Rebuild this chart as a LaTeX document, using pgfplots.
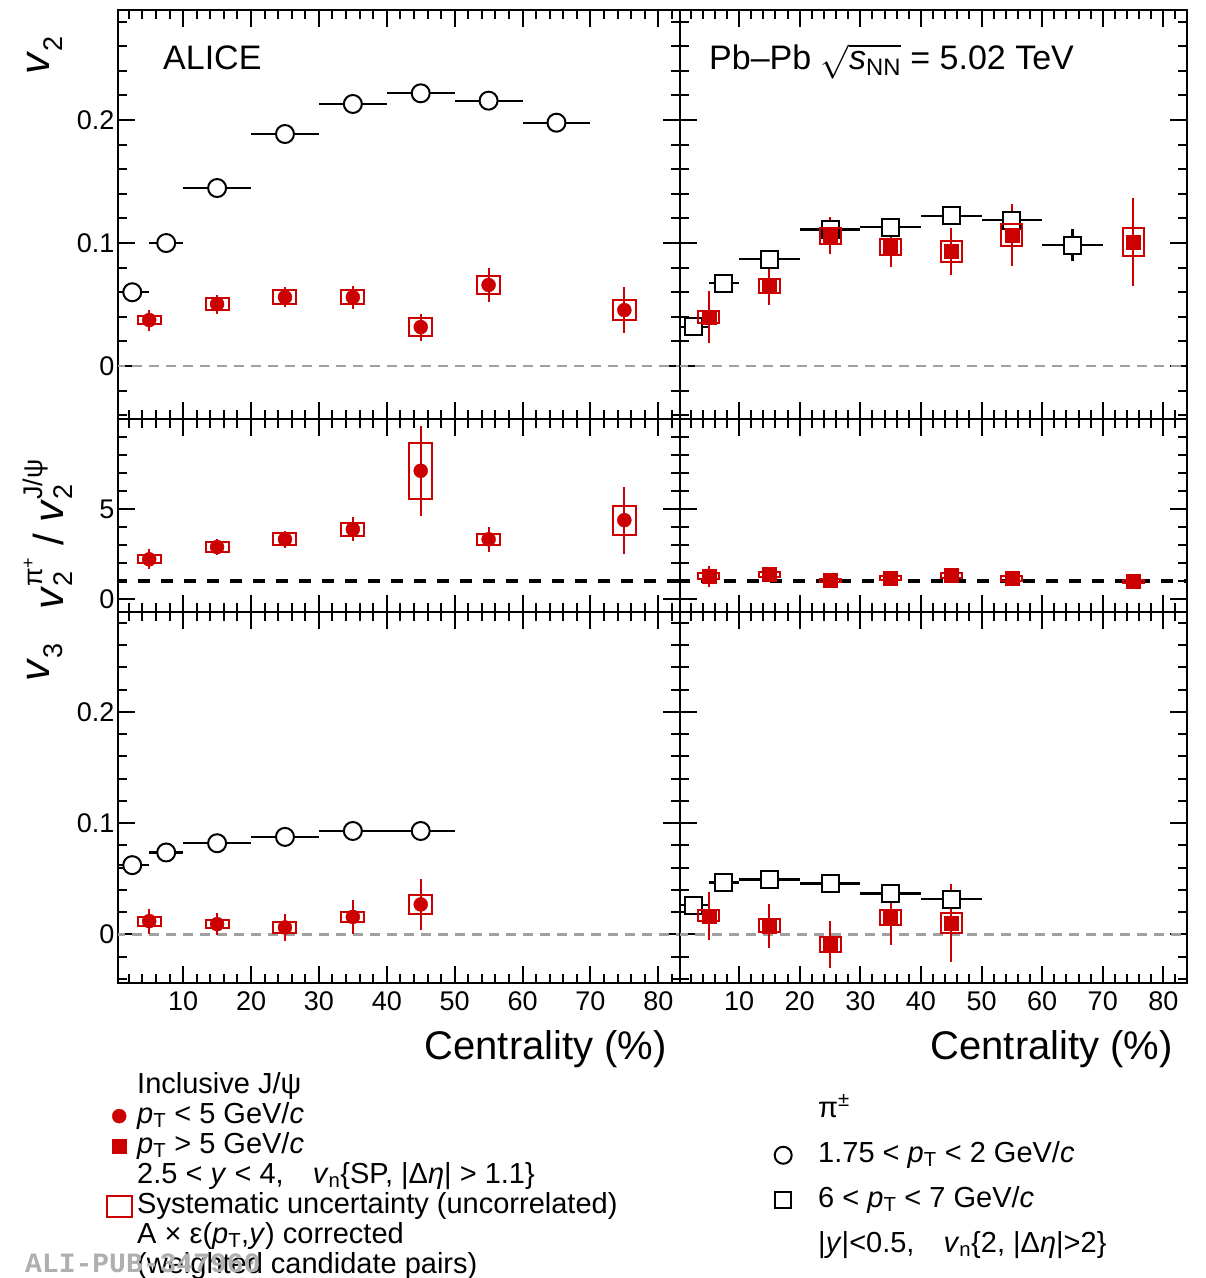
\documentclass[border=0pt]{standalone}
\usepackage{fix-cm}
\usepackage{pgfplots}
\pgfplotsset{compat=1.18}
\usepackage{pgfplotstable}
\usepackage{fontspec}
\setmainfont{Liberation Sans}
\newfontfamily\monofont{Liberation Mono}
\definecolor{jred}{RGB}{204,0,0}
\definecolor{dgray}{RGB}{160,160,160}
\definecolor{wmgray}{RGB}{175,175,175}
\newcommand\sz[1]{\fontsize{#1bp}{#1bp}\selectfont}
\newcommand\pT{\textit{p}\textsubscript{T}}
\pgfdeclareplotmark{nomark}{}

% ---------- data ----------
\pgfplotstableread{
x y ex ey
2.5 0.0600 2.5 0
7.5 0.1000 2.5 0
15 0.1447 5 0
25 0.1886 5 0
35 0.2130 5 0
45 0.2217 5 0
55 0.2157 5 0
65 0.1978 5 0
}\tApi
\pgfplotstableread{
x y ey s
5 0.0374 0.0085 0.0033
15 0.0504 0.0077 0.0050
25 0.0560 0.0080 0.0057
35 0.0560 0.0093 0.0057
45 0.0317 0.0110 0.0070
55 0.0659 0.0140 0.0070
75 0.0455 0.0187 0.0080
}\tAj
\pgfplotstableread{
x y ex ey
2.5 0.0320 2.5 0.002
7.5 0.0675 2.5 0.002
15 0.0867 5 0.002
25 0.1110 5 0.002
35 0.1130 5 0.002
45 0.1222 5 0.002
55 0.1187 5 0.003
65 0.0984 5 0.013
}\tBpi
\pgfplotstableread{
x y ey s
5 0.0400 0.0210 0.0050
15 0.0650 0.0150 0.0057
25 0.1060 0.0150 0.0065
35 0.0967 0.0160 0.0065
45 0.0930 0.0190 0.0085
55 0.1065 0.0250 0.0093
75 0.1008 0.0360 0.0114
}\tBj
\pgfplotstableread{
x y ey s
5 2.22 0.55 0.22
15 2.90 0.44 0.27
25 3.33 0.47 0.34
35 3.89 0.68 0.37
45 7.13 2.50 1.55
55 3.33 0.70 0.32
75 4.39 1.85 0.80
}\tCj
\pgfplotstableread{
x y ey s
5 1.28 0.58 0.17
15 1.37 0.15 0.12
25 1.04 0.15 0.10
35 1.20 0.15 0.11
45 1.33 0.15 0.15
55 1.15 0.15 0.14
75 0.98 0.15 0.08
}\tDj
\pgfplotstableread{
x y ex ey
2.5 0.0623 2.5 0
7.5 0.0737 2.5 0
15 0.0820 5 0
25 0.0877 5 0
35 0.0930 5 0
45 0.0930 5 0
}\tEpi
\pgfplotstableread{
x y ey s
5 0.0120 0.0112 0.0040
15 0.0093 0.0098 0.0039
25 0.0063 0.0120 0.0052
35 0.0158 0.0150 0.0048
45 0.0270 0.0230 0.0087
}\tEj
\pgfplotstableread{
x y ex ey
2.5 0.0263 2.5 0.002
7.5 0.0467 2.5 0.002
15 0.0494 5 0.002
25 0.0458 5 0.002
35 0.0368 5 0.008
45 0.0317 5 0.014
}\tFpi
\pgfplotstableread{
x y ey s
5 0.0167 0.0217 0.0050
15 0.0077 0.0200 0.0058
25 -0.0087 0.0210 0.0067
35 0.0153 0.0250 0.0070
45 0.0104 0.0350 0.0087
}\tFj

\pgfplotsset{
  base/.style={
    scale only axis,
    axis line style={line width=2.5bp},
    tick style={line width=2bp, black},
    major tick length=17bp, minor tick length=9bp,
    tick align=inside,
    xtick={10,20,...,80},
    minor xtick={2,4,...,82},
    ticklabel style={font=\sz{27}},
    xticklabel style={yshift=-5bp},
    /pgf/number format/assume math mode=true,
  },
  lcol/.style={xmin=0.4, xmax=83.2, width=562bp},
  rcol/.style={xmin=0.25, xmax=83.9, width=507bp, yticklabels={}},
  vrow/.style={ytick={0,0.1,0.2},
    minor ytick={-0.04,-0.02,0.02,0.04,0.06,0.08,0.12,0.14,0.16,0.18,0.22,0.24,0.26,0.28},
    yticklabel style={/pgf/number format/fixed}},
  toprow/.style={vrow, ymin=-0.043, ymax=0.2894, height=409bp, xticklabels={}},
  midrow/.style={ymin=-0.7, ymax=10, height=193bp, ytick={0,5},
    minor ytick={1,2,3,4,6,7,8,9}, xticklabels={}},
  botrow/.style={vrow, ymin=-0.0436, ymax=0.2898, height=371bp},
  zline/.style={forget plot, dgray, line width=2.5bp, dash pattern=on 10bp off 7bp},
  oneline/.style={forget plot, black, line width=4bp, dash pattern=on 12bp off 11bp},
  pion/.style={forget plot, only marks, mark=#1,
    mark options={draw=black, fill=white, line width=2bp, solid},
    error bars/x dir=both, error bars/x explicit,
    error bars/y dir=both, error bars/y explicit,
    error bars/error mark=none,
    error bars/error bar style={line width=2.2bp, black}},
  jpsi/.style={forget plot, only marks, mark=#1, mark size=7bp, color=jred,
    mark options={fill=jred, draw=jred, solid},
    error bars/y dir=both, error bars/y explicit, error bars/error mark=none,
    error bars/error bar style={line width=2bp, jred}},
  sysbox/.style 2 args={forget plot, only marks, mark=nomark, scatter,
    visualization depends on={#1*\thisrow{s} \as \hsys},
    scatter/@pre marker code/.code={%
      \pgfsetlinewidth{2bp}\pgfsetstrokecolor{jred}%
      \pgfpathrectanglecorners{\pgfpoint{-#2bp}{-\hsys bp}}{\pgfpoint{#2bp}{\hsys bp}}%
      \pgfusepath{stroke}},
    scatter/@post marker code/.code={}},
}

\begin{document}
\begin{tikzpicture}
\useasboundingbox (0,0) rectangle (1206bp,1278bp);

% ===== top-left =====
\begin{axis}[base, lcol, toprow, at={(118bp,859bp)}, anchor=south west]
\addplot[zline] coordinates {(0,0) (90,0)};
\addplot[pion=*, mark size=9bp] table[x=x,y=y,x error=ex,y error=ey] {\tApi};
\addplot[sysbox={1230.4}{11.5}] table[x=x,y=y] {\tAj};
\addplot[jpsi=*] table[x=x,y=y,y error=ey] {\tAj};
\end{axis}

% ===== top-right =====
\begin{axis}[base, rcol, toprow, at={(680bp,859bp)}, anchor=south west]
\addplot[zline] coordinates {(0,0) (90,0)};
\addplot[pion=square*, mark size=8.5bp] table[x=x,y=y,x error=ex,y error=ey] {\tBpi};
\addplot[sysbox={1230.4}{10.5}] table[x=x,y=y] {\tBj};
\addplot[jpsi=square*] table[x=x,y=y,y error=ey] {\tBj};
\end{axis}

% ===== middle-left =====
\begin{axis}[base, lcol, midrow, at={(118bp,666bp)}, anchor=south west]
\addplot[sysbox={18.04}{11.5}] table[x=x,y=y] {\tCj};
\addplot[jpsi=*] table[x=x,y=y,y error=ey] {\tCj};
\addplot[oneline] coordinates {(0,1) (90,1)};
\end{axis}

% ===== middle-right =====
\begin{axis}[base, rcol, midrow, at={(680bp,666bp)}, anchor=south west]
\addplot[sysbox={18.04}{10.5}] table[x=x,y=y] {\tDj};
\addplot[jpsi=square*] table[x=x,y=y,y error=ey] {\tDj};
\addplot[oneline] coordinates {(0,1) (90,1)};
\end{axis}

% ===== bottom-left =====
\begin{axis}[base, lcol, botrow, at={(118bp,295bp)}, anchor=south west,
  legend cell align=left,
  legend style={draw=none, fill=none, inner sep=0pt, font=\sz{29},
    row sep=0pt, column sep=4.5bp,
    at={(axis description cs:-0.0222,-0.237)}, anchor=north west,
    nodes={inner sep=0pt, text height=22bp, text depth=8bp}}]
\addlegendimage{empty legend}\addlegendentry{Inclusive J/ψ}
\addlegendimage{only marks, mark=*, mark size=7bp, jred}\addlegendentry{\pT{} < 5 GeV/\textit{c}}
\addlegendimage{only marks, mark=square*, mark size=7bp, jred}\addlegendentry{\pT{} > 5 GeV/\textit{c}}
\addlegendimage{empty legend}\addlegendentry{2.5 < \textit{y} < 4,\quad \textit{v}\textsubscript{n}\{SP, |Δ\textit{η}| > 1.1\}}
\addlegendimage{legend image code/.code={\draw[jred, line width=2bp] (-4bp,-10.5bp) rectangle (21bp,10.5bp);}}\addlegendentry{Systematic uncertainty (uncorrelated)}
\addlegendimage{empty legend}\addlegendentry{A × ε(\pT,\textit{y}) corrected}
\addlegendimage{empty legend}\addlegendentry{(weighted candidate pairs)}
\addplot[zline] coordinates {(0,0) (90,0)};
\addplot[pion=*, mark size=9bp] table[x=x,y=y,x error=ex,y error=ey] {\tEpi};
\addplot[sysbox={1112.8}{11.5}] table[x=x,y=y] {\tEj};
\addplot[jpsi=*] table[x=x,y=y,y error=ey] {\tEj};
\end{axis}

% ===== bottom-right =====
\begin{axis}[base, rcol, botrow, at={(680bp,295bp)}, anchor=south west,
  legend cell align=left,
  legend style={draw=none, fill=none, inner sep=0pt, font=\sz{29},
    row sep=15bp, column sep=26.5bp,
    at={(axis description cs:0.1864,-0.302)}, anchor=north west,
    nodes={inner sep=0pt, text height=22bp, text depth=8bp}}]
\addlegendimage{empty legend}\addlegendentry{π\textsuperscript{±}}
\addlegendimage{only marks, mark=*, mark size=8.5bp, mark options={draw=black, fill=white, line width=2bp}}\addlegendentry{1.75 < \pT{} < 2 GeV/\textit{c}}
\addlegendimage{only marks, mark=square*, mark size=8bp, mark options={draw=black, fill=white, line width=2bp}}\addlegendentry{6 < \pT{} < 7 GeV/\textit{c}}
\addlegendimage{empty legend}\addlegendentry{|\textit{y}|<0.5,\quad \textit{v}\textsubscript{n}\{2, |Δ\textit{η}|>2\}}
\addplot[zline] coordinates {(0,0) (90,0)};
\addplot[pion=square*, mark size=8.5bp] table[x=x,y=y,x error=ex,y error=ey] {\tFpi};
\addplot[sysbox={1112.8}{10.5}] table[x=x,y=y] {\tFj};
\addplot[jpsi=square*] table[x=x,y=y,y error=ey] {\tFj};
\end{axis}

% ===== texts =====
\node[anchor=base west, font=\sz{34}, inner sep=0pt] at (163bp,1208bp) {ALICE};
\node[anchor=base west, font=\sz{34}, inner sep=0pt] at (709bp,1208bp)
  {Pb–Pb \(\sqrt{\mbox{\textit{s}\textsubscript{NN}}}\) = 5.02 TeV};
\node[anchor=base east, font=\sz{40}, inner sep=0pt] at (667bp,218bp) {Centrality (\%)};
\node[anchor=base east, font=\sz{40}, inner sep=0pt] at (1173bp,218bp) {Centrality (\%)};
\node[rotate=90, anchor=base west, font=\sz{42}, inner sep=0pt] at (49bp,1203bp)
  {\textit{v}\raisebox{-13bp}{\sz{27}2}};
\node[rotate=90, anchor=base west, font=\sz{42}, inner sep=0pt] at (49bp,596bp)
  {\textit{v}\raisebox{-13bp}{\sz{27}3}};
\node[rotate=90, anchor=base west, font=\sz{42}, inner sep=0pt] at (63bp,668bp)
  {\textit{v}\rlap{\raisebox{-9bp}{\sz{27}2}}\raisebox{21bp}{\sz{27}π\raisebox{8bp}{\sz{18}+}}\ /\ \textit{v}\rlap{\raisebox{-9bp}{\sz{27}2}}\raisebox{21bp}{\sz{27}J/ψ}};
\node[anchor=west, font=\monofont\bfseries\sz{28}, text=wmgray, inner sep=0pt] at (25bp,15bp) {ALI-PUB-347960};
\end{tikzpicture}
\end{document}
